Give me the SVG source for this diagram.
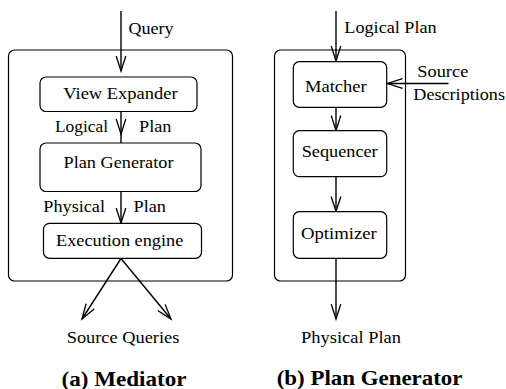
<svg xmlns="http://www.w3.org/2000/svg" width="506" height="389" viewBox="0 0 506 389">
<defs>
<marker id="ah" markerUnits="userSpaceOnUse" markerWidth="20" markerHeight="12" viewBox="-16 -6 18 12" refX="0" refY="0" orient="auto" overflow="visible">
<path d="M-15,-4.8 L0,0 L-15,4.8" fill="none" stroke="#000" stroke-width="1.3"/>
</marker>
<style>
.box{fill:#fff;stroke:#000;stroke-width:1.2}
.frame{fill:none;stroke:#000;stroke-width:1.2}
.c{fill:none;stroke:#000;stroke-width:1.4;marker-end:url(#ah)}
.s{fill:none;stroke:#000;stroke-width:1.4}
text{font-family:Liberation Serif, DejaVu Serif, Times, serif}
</style>
</defs>
<rect width="506" height="389" fill="#fff"/>
<g id="frame-a"><rect class="frame" x="8.5" y="50" width="224" height="231" rx="6"/></g>
<g id="frame-b"><rect class="frame" x="274.5" y="50" width="131" height="231" rx="6"/></g>
<g id="connectors">
<line class="c" x1="121" y1="11" x2="121" y2="71"/>
<line class="c" x1="121" y1="112" x2="121" y2="134"/>
<line class="s" x1="121" y1="134" x2="121" y2="143"/>
<line class="c" x1="121" y1="192" x2="121" y2="223"/>
<line class="c" x1="121" y1="258.5" x2="82" y2="319"/>
<line class="c" x1="121" y1="258.5" x2="171" y2="319"/>
<line class="c" x1="336" y1="11" x2="336" y2="61"/>
<line class="c" x1="448.5" y1="83.5" x2="387.5" y2="83.5"/>
<line class="c" x1="336" y1="107.5" x2="336" y2="130.5"/>
<line class="c" x1="336" y1="177" x2="336" y2="211.5"/>
<line class="c" x1="336" y1="258.5" x2="336" y2="319"/>
</g>
<g font-family="Liberation Serif, DejaVu Serif, serif" font-size="16.5" fill="#000">
<g id="view-expander"><rect class="box" x="40" y="77" width="157" height="34.5" rx="6"/><text x="63.3" y="99.3" textLength="114.3" lengthAdjust="spacingAndGlyphs">View Expander</text></g>
<g id="plan-generator"><rect class="box" x="40" y="143" width="161" height="48.5" rx="6"/><text x="63.5" y="168.3" textLength="110" lengthAdjust="spacingAndGlyphs">Plan Generator</text></g>
<g id="execution-engine"><rect class="box" x="43.5" y="223.3" width="158" height="35" rx="6"/><text x="56" y="246.3" textLength="127.3" lengthAdjust="spacingAndGlyphs">Execution engine</text></g>
<g id="matcher"><rect class="box" x="293.3" y="61.7" width="93.4" height="45.6" rx="6"/><text x="305" y="91.7" textLength="61.7" lengthAdjust="spacingAndGlyphs">Matcher</text></g>
<g id="sequencer"><rect class="box" x="293.3" y="130.7" width="93.4" height="46" rx="6"/><text x="301.7" y="157.3" textLength="76" lengthAdjust="spacingAndGlyphs">Sequencer</text></g>
<g id="optimizer"><rect class="box" x="293.3" y="211.7" width="93.4" height="46.6" rx="6"/><text x="301" y="239" textLength="75.7" lengthAdjust="spacingAndGlyphs">Optimizer</text></g>
<g id="labels">
<text x="128.5" y="34" textLength="45" lengthAdjust="spacingAndGlyphs">Query</text>
<text x="55" y="132" textLength="53" lengthAdjust="spacingAndGlyphs">Logical</text>
<text x="139" y="132" textLength="32.5" lengthAdjust="spacingAndGlyphs">Plan</text>
<text x="43.3" y="211.7" textLength="61.7" lengthAdjust="spacingAndGlyphs">Physical</text>
<text x="133.5" y="211.7" textLength="32.5" lengthAdjust="spacingAndGlyphs">Plan</text>
<text x="66.7" y="343" textLength="112.6" lengthAdjust="spacingAndGlyphs">Source Queries</text>
<text x="344.3" y="33.3" textLength="92.4" lengthAdjust="spacingAndGlyphs">Logical Plan</text>
<text x="417.3" y="76.7" textLength="51" lengthAdjust="spacingAndGlyphs">Source</text>
<text x="413.3" y="100" textLength="91.7" lengthAdjust="spacingAndGlyphs">Descriptions</text>
<text x="301" y="342.7" textLength="100" lengthAdjust="spacingAndGlyphs">Physical Plan</text>
<text x="61.5" y="385.5" font-size="21.5" font-weight="bold" textLength="125" lengthAdjust="spacingAndGlyphs">(a) Mediator</text>
<text x="276.7" y="385" font-size="21.5" font-weight="bold" textLength="185.8" lengthAdjust="spacingAndGlyphs">(b) Plan Generator</text>
</g>
</g>
</svg>
